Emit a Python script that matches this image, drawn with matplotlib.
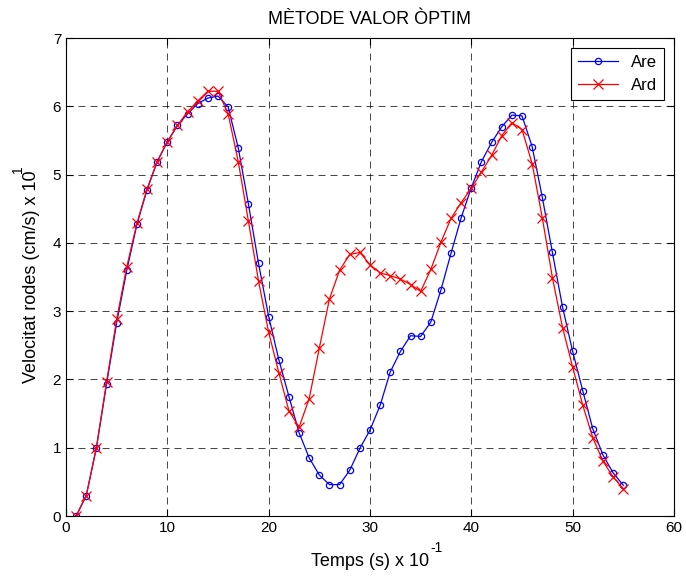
import matplotlib
matplotlib.use("Agg")
import matplotlib.pyplot as plt

plt.rcParams['font.family'] = ['Liberation Sans', 'DejaVu Sans']

t = list(range(1, 56))
are = [0.00, 0.30, 1.00, 1.93, 2.83, 3.60, 4.27, 4.78, 5.19, 5.48,
       5.72, 5.89, 6.04, 6.12, 6.15, 5.99, 5.39, 4.57, 3.70, 2.92,
       2.29, 1.75, 1.22, 0.85, 0.60, 0.46, 0.46, 0.67, 0.99, 1.26,
       1.62, 2.11, 2.41, 2.64, 2.63, 2.84, 3.31, 3.85, 4.37, 4.81,
       5.19, 5.47, 5.70, 5.87, 5.86, 5.41, 4.67, 3.86, 3.06, 2.41,
       1.83, 1.27, 0.89, 0.63, 0.45]
ard = [0.00, 0.30, 1.00, 1.96, 2.88, 3.65, 4.29, 4.79, 5.19, 5.48,
       5.72, 5.92, 6.08, 6.22, 6.22, 5.89, 5.19, 4.32, 3.44, 2.69,
       2.10, 1.54, 1.30, 1.72, 2.46, 3.18, 3.60, 3.83, 3.86, 3.68,
       3.56, 3.52, 3.47, 3.39, 3.29, 3.61, 4.01, 4.36, 4.59, 4.80,
       5.04, 5.28, 5.57, 5.76, 5.66, 5.16, 4.37, 3.49, 2.76, 2.18,
       1.62, 1.14, 0.80, 0.57, 0.40]

title = "MÈTODE VALOR ÒPTIM"
xlabel = "Temps (s) x 10"
xexp = "-1"
ylabel = "Velocitat rodes (cm/s) x 10"
yexp = "1"

fig = plt.figure(figsize=(6.86, 5.76), dpi=100)
ax = fig.add_axes([66/686, 1 - 516/576, (674-66)/686, (516-38)/576])

ax.plot(t, are, color='blue', marker='o', markersize=4.5, markerfacecolor='none',
        markeredgewidth=0.9, linewidth=0.9, label='Are')
ax.plot(t, ard, color='red', marker='x', markersize=7, markeredgewidth=0.9,
        linewidth=0.9, label='Ard')

ax.set_xlim(0, 60)
ax.set_ylim(0, 7)
ax.set_xticks(range(0, 61, 10))
ax.set_yticks(range(0, 8))
ax.grid(True, color='black', linestyle=(0, (8.4, 6)), linewidth=0.6, alpha=0.85)
ax.tick_params(direction='in', top=True, right=True, labelsize=11, length=5)
for s in ax.spines.values():
    s.set_linewidth(0.8)

ax.set_title(title, fontsize=13, pad=10)
ax.set_xlabel(xlabel, fontsize=13, labelpad=13)
ax.set_ylabel(ylabel, fontsize=13, labelpad=9)

ax.annotate(xexp, xy=(1, 1), xycoords=ax.xaxis.label, xytext=(1, -1.5),
            textcoords='offset points', fontsize=10, ha='left', va='bottom')
ax.annotate(yexp, xy=(0, 1), xycoords=ax.yaxis.label, xytext=(1.5, 1),
            textcoords='offset points', fontsize=10, ha='right', va='center',
            rotation=90)

leg = ax.legend(loc='upper right', fontsize=12, fancybox=False, framealpha=1,
                edgecolor='black', borderaxespad=0.6, handlelength=2.4)
leg.get_frame().set_linewidth(0.8)

fig.savefig('out.png', dpi=100)
